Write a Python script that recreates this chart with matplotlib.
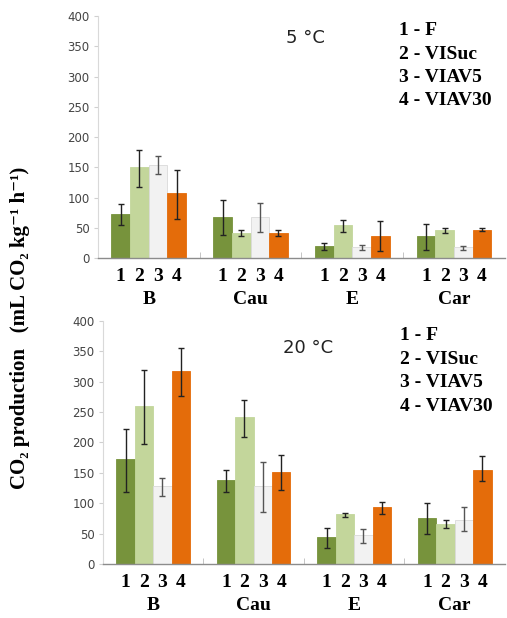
import matplotlib.pyplot as plt
import numpy as np
from matplotlib.ticker import FixedLocator

groups = ["B", "Cau", "E", "Car"]
treatments = ["1 - F", "2 - VISuc", "3 - VIAV5", "4 - VIAV30"]
colors = ["#77933C", "#C3D69B", "#F2F2F2", "#E46C0A"]

# 5 °C: mean, lower and upper end of error bar, per treatment (rows) and group (cols)
mean_5 = [[72, 67, 20, 37],
          [150, 42, 54, 47],
          [153, 67, 18, 18],
          [107, 42, 37, 47]]
lo_5 = [[55, 38, 14, 13],
        [118, 36, 43, 42],
        [139, 43, 13, 14],
        [65, 37, 12, 44]]
hi_5 = [[89, 96, 24, 57],
        [179, 47, 63, 50],
        [168, 91, 21, 20],
        [145, 47, 62, 49]]

# 20 °C
mean_20 = [[173, 138, 44, 75],
           [260, 242, 82, 66],
           [128, 128, 48, 73],
           [317, 151, 93, 155]]
lo_20 = [[119, 118, 26, 49],
         [197, 209, 78, 59],
         [112, 85, 34, 54],
         [277, 121, 83, 136]]
hi_20 = [[222, 155, 60, 100],
         [319, 270, 84, 72],
         [142, 168, 58, 94],
         [356, 180, 102, 177]]

serif = ["Liberation Serif", "DejaVu Serif"]
w = 0.183
offsets = np.array([-1.5, -0.5, 0.5, 1.5]) * w


def draw(ax, means, lows, highs, title):
    xg = np.arange(len(groups))
    ticks, labels = [], []
    for k in range(4):
        m = np.array(means[k])
        err = [m - np.array(lows[k]), np.array(highs[k]) - m]
        ecol = "#555555" if k == 2 else "#222222"
        ax.bar(xg + offsets[k], m, w, color=colors[k],
               edgecolor="#DADADA" if k == 2 else colors[k], linewidth=0.6,
               yerr=err, capsize=2.5,
               error_kw=dict(ecolor=ecol, elinewidth=1.0, capthick=1.0), zorder=2)
    for i in xg:
        for k in range(4):
            ticks.append(i + offsets[k])
            labels.append(str(k + 1))
    ax.set_xticks(ticks)
    ax.set_xticklabels(labels, fontfamily=serif, fontweight="bold", fontsize=14)
    ax.tick_params(axis="x", length=0, pad=7)
    ax.xaxis.set_minor_locator(FixedLocator([0.5, 1.5, 2.5]))
    ax.tick_params(axis="x", which="minor", direction="in", length=4, color="#BBBBBB")
    for i, g in enumerate(groups):
        ax.annotate(g, xy=(i, 0), xycoords=("data", "axes fraction"),
                    xytext=(0, -30), textcoords="offset points",
                    ha="center", va="center", fontfamily=serif,
                    fontweight="bold", fontsize=14)
    ax.set_xlim(-0.5, 3.5)
    ax.set_ylim(0, 400)
    ax.set_yticks(range(0, 401, 50))
    ax.tick_params(axis="y", labelsize=8.5, labelcolor="#444444", length=3,
                   color="#D0D0D0", pad=3)
    for s in ["top", "right"]:
        ax.spines[s].set_visible(False)
    ax.spines["left"].set_color("#D9D9D9")
    ax.spines["bottom"].set_color("#8C8C8C")
    ax.spines["bottom"].set_linewidth(1.0)
    ax.text(title[1], title[2], title[0], transform=ax.transAxes,
            ha="center", va="center", fontsize=13, color="#222222")
    for j, t in enumerate(treatments):
        ax.text(0.74, 0.94 - j * 0.097, t, transform=ax.transAxes,
                ha="left", va="center", fontfamily=serif,
                fontweight="bold", fontsize=14)


fig = plt.figure(figsize=(5.07, 6.18), dpi=100)
ax1 = fig.add_axes([0.193, 0.5825, 0.803, 0.3915])
ax2 = fig.add_axes([0.203, 0.0874, 0.793, 0.3932])

draw(ax1, mean_5, lo_5, hi_5, ("5 °C", 0.51, 0.91))
draw(ax2, mean_20, lo_20, hi_20, ("20 °C", 0.51, 0.89))

fig.text(0.04, 0.47, "CO₂ production   (mL CO₂ kg⁻¹ h⁻¹)", rotation=90,
         ha="center", va="center", fontfamily=serif, fontweight="bold",
         fontsize=15)

fig.savefig("out.png", dpi=100)
